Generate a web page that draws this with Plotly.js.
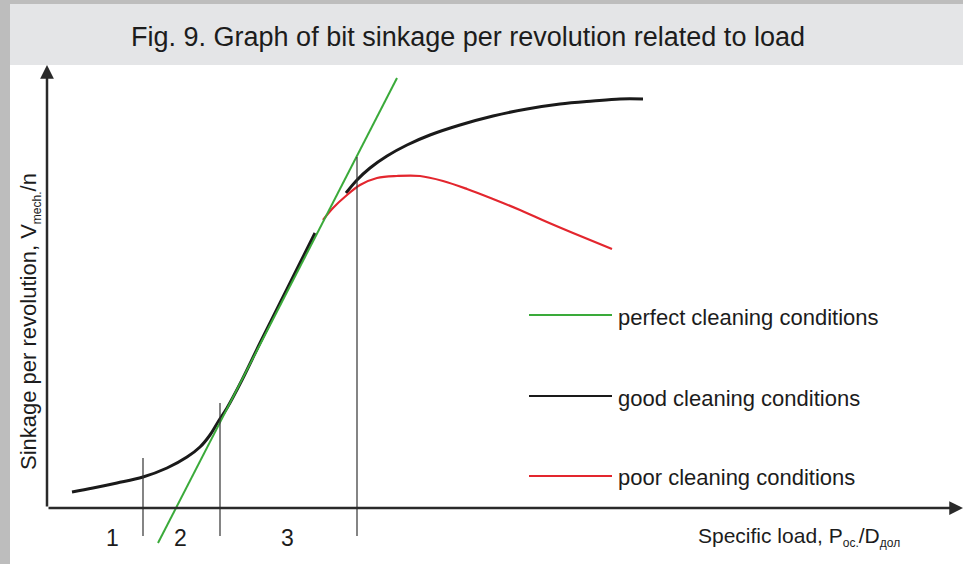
<!DOCTYPE html>
<html>
<head>
<meta charset="utf-8">
<script src="https://cdn.plot.ly/plotly-3.0.1.min.js"></script>
<style>html,body{margin:0;padding:0;background:#fff;}#chart{width:963px;height:564px;}</style>
</head>
<body>
<div id="chart"></div>
<script>
// ---- data (arbitrary units: specific load vs sinkage per revolution) ----
const seriesNames = ["perfect cleaning conditions", "good cleaning conditions", "poor cleaning conditions"];
const perfectX = [1.11, 3.50];
const perfectY = [-0.35, 4.30];
const goodLowX = [0.25, 0.46, 0.70, 0.96, 1.20, 1.40, 1.53, 1.63, 1.71, 1.80, 1.95, 2.13, 2.33, 2.53, 2.68];
const goodLowY = [0.16, 0.20, 0.25, 0.31, 0.40, 0.51, 0.61, 0.73, 0.86, 1.00, 1.28, 1.65, 2.05, 2.45, 2.75];
const goodHighX = [2.99, 3.10, 3.23, 3.40, 3.60, 3.83, 4.13, 4.46, 4.80, 5.13, 5.46, 5.73, 5.96];
const goodHighY = [3.15, 3.28, 3.40, 3.52, 3.63, 3.73, 3.83, 3.92, 3.99, 4.04, 4.07, 4.09, 4.09];
const poorX = [2.76, 2.86, 3.00, 3.13, 3.30, 3.50, 3.73, 3.96, 4.20, 4.46, 4.73, 5.00, 5.26, 5.65];
const poorY = [2.88, 3.00, 3.13, 3.23, 3.30, 3.32, 3.32, 3.27, 3.19, 3.09, 2.98, 2.86, 2.75, 2.59];
const zoneBoundX = [0.96, 1.73, 3.10];
const zoneBoundTop = [0.50, 1.05, 3.51];
const zoneBoundBottom = -0.28;
const zoneLabels = ["1", "2", "3"];
const zoneLabelX = [0.65, 1.33, 2.40];
const zoneLabelY = -0.30;
const xAxisEnd = 9.16;
const yAxisEnd = 4.43;

const FONT = "Liberation Sans, Arial, sans-serif";
const TXT = "#1c1c1c";
const colors = ["#3aaa3a", "#1a1a1a", "#e3262e"];

const traces = [
  {x: goodLowX, y: goodLowY, mode: "lines", line: {color: colors[1], width: 3, shape: "spline", smoothing: 1}, hoverinfo: "skip"},
  {x: goodHighX, y: goodHighY, mode: "lines", line: {color: colors[1], width: 3, shape: "spline", smoothing: 1}, hoverinfo: "skip"},
  {x: poorX, y: poorY, mode: "lines", line: {color: colors[2], width: 2.2, shape: "spline", smoothing: 1}, hoverinfo: "skip"},
  {x: perfectX, y: perfectY, mode: "lines", line: {color: colors[0], width: 2}, hoverinfo: "skip"}
];

const shapes = [
  // frame: left strip, top strip, title band
  {type: "rect", xref: "paper", yref: "paper", x0: 0, x1: 10/963, y0: 0, y1: 1, fillcolor: "#bdbdbd", line: {width: 0}, layer: "below"},
  {type: "rect", xref: "paper", yref: "paper", x0: 0, x1: 1, y0: 1 - 4/564, y1: 1, fillcolor: "#bdbdbd", line: {width: 0}, layer: "below"},
  {type: "rect", xref: "paper", yref: "paper", x0: 10/963, x1: 1, y0: 1 - 65/564, y1: 1 - 4/564, fillcolor: "#e4e5e7", line: {width: 0}, layer: "below"}
];
zoneBoundX.forEach((bx, i) => {
  shapes.push({type: "line", xref: "x", yref: "y", x0: bx, x1: bx, y0: zoneBoundBottom, y1: zoneBoundTop[i], line: {color: "#333", width: 1.2}});
});
// legend samples
const legendPy = [315, 396, 476];
legendPy.forEach((py, i) => {
  shapes.push({type: "line", xref: "paper", yref: "paper", x0: 529/963, x1: 612/963, y0: 1 - py/564, y1: 1 - py/564, line: {color: colors[i], width: 2.2}});
});

const annotations = [
  // axes with arrows
  {x: xAxisEnd, y: 0, ax: 0, ay: 0, xref: "x", yref: "y", axref: "x", ayref: "y", showarrow: true, arrowhead: 2, arrowsize: 1.1, arrowwidth: 2.5, arrowcolor: "#2a2a2a", text: ""},
  {x: 0, y: yAxisEnd, ax: 0, ay: 0, xref: "x", yref: "y", axref: "x", ayref: "y", showarrow: true, arrowhead: 2, arrowsize: 1.1, arrowwidth: 2.5, arrowcolor: "#2a2a2a", text: ""},
  // axis titles
  {xref: "paper", yref: "paper", x: 30/963, y: 1 - 322/564, xanchor: "center", yanchor: "middle", textangle: -90, showarrow: false,
   text: "Sinkage per revolution, V<sub><span style=\"font-size:12px\">mech.</span></sub>/n", font: {family: FONT, size: 22, color: TXT}},
  {xref: "paper", yref: "paper", x: 696/963, y: 1 - 537/564, xanchor: "left", yanchor: "middle", showarrow: false,
   text: "Specific load, P<sub><span style=\"font-size:12px\">ос.</span></sub>/D<sub><span style=\"font-size:12px\">дол</span></sub>", font: {family: FONT, size: 21, color: TXT}}
];
zoneLabels.forEach((t, i) => {
  annotations.push({x: zoneLabelX[i], y: zoneLabelY, xref: "x", yref: "y", text: t, showarrow: false, xanchor: "center", yanchor: "middle", font: {family: FONT, size: 23, color: TXT}});
});
seriesNames.forEach((t, i) => {
  annotations.push({xref: "paper", yref: "paper", x: 616/963, y: 1 - (legendPy[i] + 2)/564, xanchor: "left", yanchor: "middle", showarrow: false, text: t, font: {family: FONT, size: 22, color: TXT}});
});

const layout = {
  width: 963, height: 564,
  margin: {l: 0, r: 0, t: 0, b: 0, pad: 0},
  paper_bgcolor: "#ffffff", plot_bgcolor: "rgba(0,0,0,0)",
  showlegend: false,
  title: {text: "Fig. 9. Graph of bit sinkage per revolution related to load", x: 468/963, y: 1 - 37/564, xref: "paper", yref: "paper", xanchor: "center", yanchor: "middle",
          font: {family: FONT, size: 27, color: TXT}},
  xaxis: {range: [-0.47, 9.16], visible: false, fixedrange: true},
  yaxis: {range: [-0.56, 5.08], visible: false, fixedrange: true},
  shapes: shapes,
  annotations: annotations
};

Plotly.newPlot("chart", traces, layout, {staticPlot: true, displayModeBar: false});
</script>
</body>
</html>
